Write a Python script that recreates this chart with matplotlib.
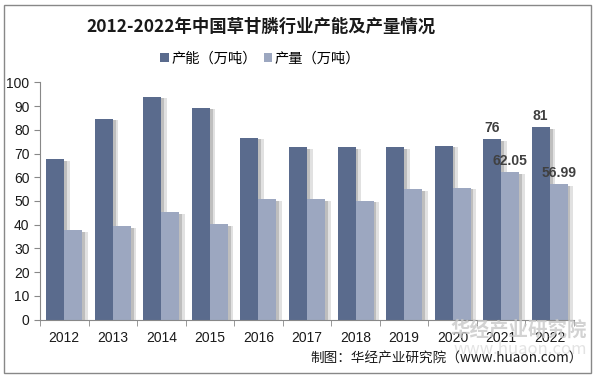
import matplotlib
matplotlib.use("Agg")
import matplotlib.pyplot as plt
import matplotlib.patheffects as pe
from matplotlib.patches import Rectangle
import numpy as np

plt.rcParams['font.family'] = ['Noto Sans CJK SC', 'DejaVu Sans']

years = ['2012', '2013', '2014', '2015', '2016', '2017', '2018', '2019', '2020', '2021', '2022']
capacity = [67.5, 84.5, 93.8, 89.2, 76.5, 72.6, 72.6, 72.6, 73.2, 76, 81]
output = [37.6, 39.3, 45.2, 40.2, 50.7, 50.7, 50.0, 55.0, 55.5, 62.05, 56.99]
series_names = ['产能（万吨）', '产量（万吨）']
labeled_cap = {'2021': '76', '2022': '81'}
labeled_out = {'2021': '62.05', '2022': '56.99'}

c_dark = '#5a6b8d'
c_light = '#9ca7c0'

fig = plt.figure(figsize=(5.98, 3.77), dpi=100)
ax = fig.add_axes([40/598, 1-319.7/377, (574-40)/598, (319.7-82.3)/377])

x = np.arange(len(years))
w = 0.37
shadow = [pe.SimplePatchShadow(offset=(4, -1), shadow_rgbFace='#c4c4c4', alpha=0.5),
          pe.SimplePatchShadow(offset=(2, -1), shadow_rgbFace='#a8a8a8', alpha=0.6),
          pe.Normal()]
b1 = ax.bar(x - w/2, capacity, w, color=c_dark, label=series_names[0], path_effects=shadow)
b2 = ax.bar(x + w/2, output, w, color=c_light, label=series_names[1], path_effects=shadow)

for i, y in enumerate(years):
    if y in labeled_cap:
        ax.text(x[i] - w/2, capacity[i] + 1.8, labeled_cap[y], ha='center', va='bottom',
                fontsize=10, fontweight='bold', color='#404040', family='Liberation Sans')
    if y in labeled_out:
        ax.text(x[i] + w/2, output[i] + 1.8, labeled_out[y], ha='center', va='bottom',
                fontsize=10, fontweight='bold', color='#404040', family='Liberation Sans')

ax.set_xlim(-0.5, len(years) - 0.5)
ax.set_ylim(0, 100)
ax.set_yticks(range(0, 101, 10))
ax.set_xticks(x)
ax.set_xticklabels(years)
ax.set_xticks(np.arange(-0.5, len(years), 1), minor=True)
ax.tick_params(axis='x', which='major', length=0, pad=8, labelsize=10, colors='#1a1a1a')
ax.tick_params(axis='x', which='minor', length=4, color='#888888')
ax.tick_params(axis='y', length=4, color='#888888', labelsize=10, colors='#1a1a1a')
for lab in ax.get_xticklabels() + ax.get_yticklabels():
    lab.set_family('Liberation Sans')
ax.spines['top'].set_visible(False)
ax.spines['right'].set_visible(False)
ax.spines['left'].set_color('#888888')
ax.spines['bottom'].set_color('#888888')

fig.text(0.437, 1-27/377, '2012-2022年中国草甘膦行业产能及产量情况', ha='center', va='center',
         fontsize=12.5, fontweight='bold', color='#1a1a1a')

leg = fig.legend(handles=[b1, b2], loc='center', bbox_to_anchor=(0.435, 1-59/377), ncol=2,
                 frameon=False, fontsize=10.3, handlelength=0.6, handleheight=0.6,
                 handletextpad=0.15, columnspacing=0.5)
for h in leg.legend_handles:
    h.set_path_effects([])

fig.text(0.868, 1-330/377, '华经产业研究院', ha='center', va='center', fontsize=14,
         fontweight='bold', color='#c8c8c8', alpha=0.8)
fig.text(0.87, 1-350/377, 'www.huaon.com', ha='center', va='center', fontsize=12,
         color='#dddddd', alpha=0.8)
fig.text(0.975, 1-359/377, '制图：华经产业研究院（www.huaon.com）', ha='right', va='center',
         fontsize=9.8, color='#1a1a1a')

fig.patches.append(Rectangle((4/598, 1-373/377), 587/598, 368/377, transform=fig.transFigure,
                             fill=False, edgecolor='#888888', linewidth=1))

fig.savefig('out.png', dpi=100)
